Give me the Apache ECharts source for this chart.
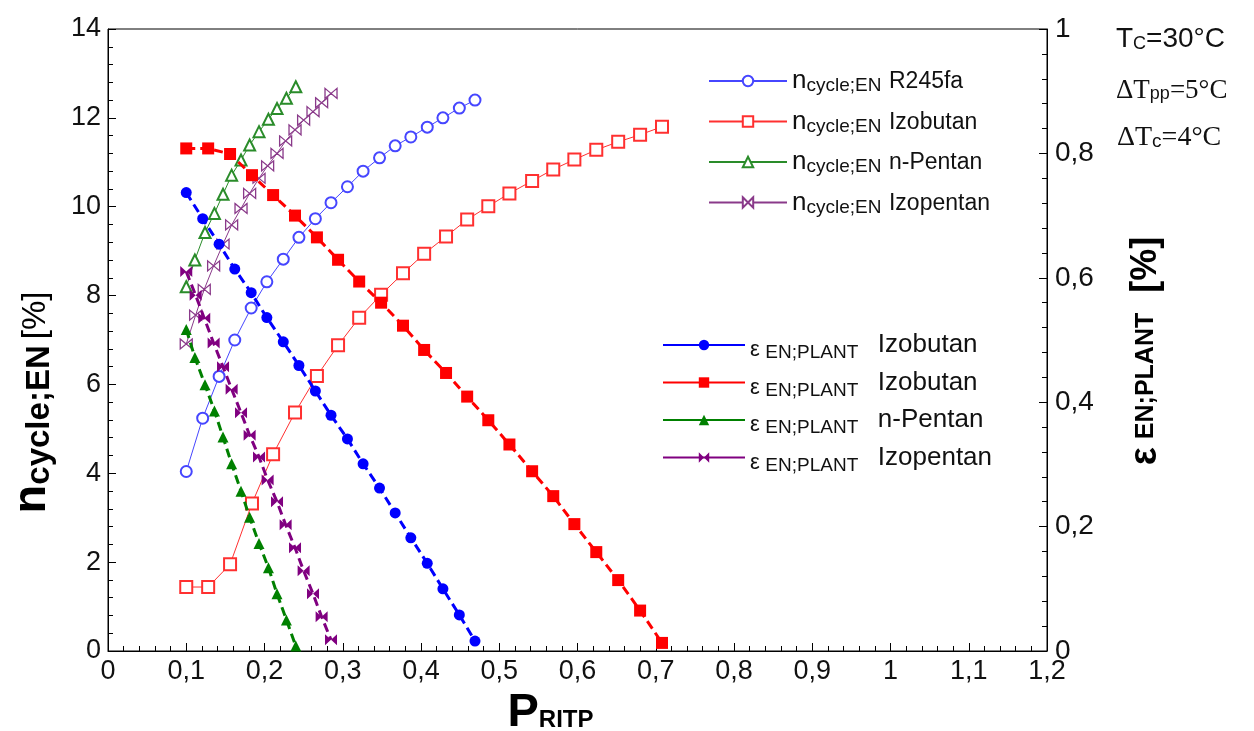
<!DOCTYPE html>
<html>
<head>
<meta charset="utf-8">
<title>n cycle / eps plant vs P RITP</title>
<script src="https://cdn.jsdelivr.net/npm/echarts@6/dist/echarts.min.js"></script>
<style>
  html, body { margin: 0; padding: 0; background: #fff; }
  #chart { width: 1254px; height: 731px; }
</style>
</head>
<body>
<div id="chart"></div>
<script>
// --- data ---
const xR245fa = [0.100, 0.121, 0.142, 0.162, 0.183, 0.203, 0.224, 0.244, 0.265, 0.285, 0.306, 0.326, 0.347, 0.367, 0.387, 0.408, 0.428, 0.449, 0.469];
const nCycleR245fa = [4.04, 5.24, 6.18, 7.00, 7.72, 8.31, 8.82, 9.31, 9.73, 10.09, 10.45, 10.80, 11.10, 11.37, 11.57, 11.79, 12.00, 12.22, 12.40];
const epsR245fa = [0.737, 0.695, 0.654, 0.614, 0.576, 0.536, 0.497, 0.459, 0.418, 0.379, 0.341, 0.301, 0.262, 0.222, 0.182, 0.141, 0.100, 0.058, 0.016];

const xIzobutan = [0.100, 0.128, 0.156, 0.184, 0.211, 0.239, 0.267, 0.294, 0.321, 0.349, 0.377, 0.404, 0.432, 0.459, 0.486, 0.513, 0.542, 0.569, 0.596, 0.624, 0.652, 0.680, 0.708];
const nCycleIzobutan = [1.44, 1.44, 1.95, 3.32, 4.43, 5.37, 6.19, 6.88, 7.50, 8.02, 8.50, 8.94, 9.33, 9.71, 10.01, 10.30, 10.58, 10.84, 11.06, 11.28, 11.46, 11.62, 11.80];
const epsIzobutan = [0.808, 0.808, 0.799, 0.765, 0.733, 0.700, 0.665, 0.629, 0.594, 0.560, 0.523, 0.484, 0.447, 0.409, 0.371, 0.332, 0.289, 0.249, 0.204, 0.159, 0.114, 0.065, 0.013];

const xPentan = [0.100, 0.111, 0.124, 0.136, 0.147, 0.158, 0.170, 0.181, 0.193, 0.205, 0.216, 0.228, 0.240];
const nCyclePentan = [8.20, 8.80, 9.42, 9.85, 10.28, 10.71, 11.05, 11.39, 11.69, 11.97, 12.21, 12.44, 12.70];
const epsPentan = [0.517, 0.472, 0.428, 0.386, 0.344, 0.301, 0.257, 0.215, 0.173, 0.134, 0.092, 0.050, 0.008];

const xIzopentan = [0.100, 0.112, 0.123, 0.135, 0.147, 0.158, 0.170, 0.181, 0.193, 0.204, 0.216, 0.227, 0.239, 0.250, 0.262, 0.273, 0.285];
const nCycleIzopentan = [6.91, 7.56, 8.14, 8.67, 9.16, 9.59, 9.96, 10.30, 10.64, 10.92, 11.20, 11.48, 11.73, 11.95, 12.14, 12.34, 12.55];
const epsIzopentan = [0.610, 0.572, 0.535, 0.495, 0.457, 0.421, 0.383, 0.347, 0.312, 0.275, 0.240, 0.203, 0.166, 0.129, 0.092, 0.055, 0.018];

const xTickLabels = ['0', '0,1', '0,2', '0,3', '0,4', '0,5', '0,6', '0,7', '0,8', '0,9', '1', '1,1', '1,2'];
const leftTickLabels = ['0', '2', '4', '6', '8', '10', '12', '14'];
const rightTickLabels = ['0', '0,2', '0,4', '0,6', '0,8', '1'];

const legendText = {
  nR245fa: '{n|n}{s|cycle;EN} {m|R245fa}',
  nIzobutan: '{n|n}{s|cycle;EN} {m|Izobutan}',
  nPentan: '{n|n}{s|cycle;EN} {m|n-Pentan}',
  nIzopentan: '{n|n}{s|cycle;EN} {m|Izopentan}',
  eR245fa: '{e|ε} {s|EN;PLANT} {m|Izobutan}',
  eIzobutan: '{e|ε} {s|EN;PLANT} {m|Izobutan}',
  ePentan: '{e|ε} {s|EN;PLANT} {m|n-Pentan}',
  eIzopentan: '{e|ε} {s|EN;PLANT} {m|Izopentan}'
};

(function() {
  const chart = echarts.init(document.getElementById('chart'));
  const font = '"Liberation Sans", Arial, sans-serif';
  const serif = '"Liberation Serif", "Times New Roman", serif';
  const bowtie = 'path://M0,0L10,6L0,12ZM20,0L10,6L20,12Z';

  function zip(xs, ys) {
    return xs.map(function(x, i) { return [x, ys[i]]; });
  }

  function thin(name, xs, ys, color, symbol, size, extraItem) {
    return {
      name: name,
      type: 'line',
      yAxisIndex: 0,
      data: zip(xs, ys),
      symbol: symbol,
      symbolSize: size,
      lineStyle: { color: color, width: 1 },
      itemStyle: Object.assign({ color: color, borderWidth: 1.4 }, extraItem || {}),
      z: 3
    };
  }

  function thick(name, xs, ys, color, symbol, size) {
    return {
      name: name,
      type: 'line',
      yAxisIndex: 1,
      data: zip(xs, ys),
      symbol: symbol,
      symbolSize: size,
      lineStyle: { color: color, width: 3, type: [9, 5] },
      itemStyle: { color: color },
      z: 4
    };
  }

  const tickStyle = { color: '#000', width: 1 };

  const option = {
    backgroundColor: '#fff',
    animation: false,
    textStyle: { fontFamily: font },
    grid: {
      left: 108, right: 207, top: 29, bottom: 80,
      outerBoundsMode: 'none',
      containLabel: false,
      show: true, borderColor: '#000', borderWidth: 1
    },
    xAxis: {
      type: 'value',
      min: 0, max: 1.2, interval: 0.1,
      name: '{p|P}{s|RITP}',
      nameLocation: 'middle',
      nameGap: 38,
      nameTextStyle: {
        padding: [0, 54, 0, 0],
        rich: {
          p: { fontSize: 47, fontWeight: 'bold', color: '#000', fontFamily: font },
          s: { fontSize: 24, fontWeight: 'bold', color: '#000', fontFamily: font, padding: [14, 0, 0, 0] }
        }
      },
      axisLine: { lineStyle: { color: '#000', width: 1 } },
      axisTick: { inside: true, length: 8, lineStyle: tickStyle },
      minorTick: { show: true, splitNumber: 5, length: 5, lineStyle: tickStyle },
      splitLine: { show: false },
      axisLabel: {
        fontSize: 27, color: '#111', margin: 7,
        formatter: function(v) { return xTickLabels[Math.round(v / 0.1)]; }
      }
    },
    yAxis: [
      {
        type: 'value',
        position: 'left',
        min: 0, max: 14, interval: 2,
        name: '{n|n}{s|cycle;EN}{b|[%]}',
        nameLocation: 'middle',
        nameRotate: 90,
        nameGap: 52,
        nameTextStyle: {
          padding: [0, 125, 0, 0],
          rich: {
            n: { fontSize: 47, fontWeight: 'bold', color: '#000', fontFamily: font },
            s: { fontSize: 33, fontWeight: 'bold', color: '#000', fontFamily: font, padding: [14, 0, 0, 0] },
            b: { fontSize: 33, color: '#000', fontFamily: font, padding: [6, 0, 0, 6] }
          }
        },
        axisLine: { show: true, lineStyle: { color: '#000', width: 1 } },
        axisTick: { show: true, inside: true, length: 8, lineStyle: tickStyle },
        minorTick: { show: true, splitNumber: 5, length: 5, lineStyle: tickStyle },
        splitLine: { show: false },
        axisLabel: {
          fontSize: 27, color: '#111', margin: 7,
          formatter: function(v) { return leftTickLabels[Math.round(v / 2)]; }
        }
      },
      {
        type: 'value',
        position: 'right',
        min: 0, max: 1, interval: 0.2,
        name: '{e|ε}{s|EN;PLANT}{b|[%]}',
        nameLocation: 'middle',
        nameRotate: 90,
        nameGap: 80,
        nameTextStyle: {
          padding: [0, 22, 0, 0],
          rich: {
            e: { fontSize: 38, fontWeight: 'bold', color: '#000', fontFamily: font, padding: [0, 8, 0, 0] },
            s: { fontSize: 25, fontWeight: 'bold', color: '#000', fontFamily: font },
            b: { fontSize: 36, fontWeight: 'bold', color: '#000', fontFamily: font, padding: [0, 0, 0, 20] }
          }
        },
        axisLine: { show: true, lineStyle: { color: '#000', width: 1 } },
        axisTick: { show: true, inside: true, length: 8, lineStyle: tickStyle },
        minorTick: { show: true, splitNumber: 5, length: 5, lineStyle: tickStyle },
        splitLine: { show: false },
        axisLabel: {
          fontSize: 28, color: '#111', margin: 8,
          formatter: function(v) { return rightTickLabels[Math.round(v / 0.2)]; }
        }
      }
    ],
    legend: [
      {
        data: ['nR245fa', 'nIzobutan', 'nPentan', 'nIzopentan'],
        orient: 'vertical',
        left: 703, top: 63,
        itemWidth: 78, itemHeight: 13, itemGap: 13,
        selectedMode: false,
        formatter: function(name) { return legendText[name]; },
        textStyle: {
          fontSize: 20, color: '#111', fontFamily: font,
          rich: {
            n: { fontSize: 26, color: '#111', fontFamily: font },
            s: { fontSize: 19, color: '#111', fontFamily: font, padding: [10, 0, 0, 0] },
            m: { fontSize: 23, color: '#111', fontFamily: font, padding: [2, 0, 0, 2] }
          }
        }
      },
      {
        data: ['eR245fa', 'eIzobutan', 'ePentan', 'eIzopentan'],
        orient: 'vertical',
        left: 657, top: 327,
        itemWidth: 82, itemHeight: 13, itemGap: 7,
        selectedMode: false,
        lineStyle: { type: 'solid' },
        formatter: function(name) { return legendText[name]; },
        textStyle: {
          fontSize: 20, color: '#111', fontFamily: font,
          rich: {
            e: { fontSize: 22, color: '#111', fontFamily: font, padding: [10, 0, 0, 0] },
            s: { fontSize: 19, color: '#111', fontFamily: font, padding: [16, 0, 0, 0] },
            m: { fontSize: 26, color: '#111', fontFamily: font, padding: [0, 0, 0, 14] }
          }
        }
      }
    ],
    graphic: [
      {
        type: 'text', left: 1116, top: 25,
        style: {
          text: '{a|T}{b|C}{a|=30°C}',
          rich: {
            a: { fontSize: 28, fill: '#111', fontFamily: font },
            b: { fontSize: 18, fill: '#111', fontFamily: font, padding: [10, 0, 0, 0] }
          }
        }
      },
      {
        type: 'text', left: 1116, top: 77,
        style: {
          text: '{a|ΔT}{b|pp}{a|=5°C}',
          rich: {
            a: { fontSize: 27, fill: '#111', fontFamily: serif },
            b: { fontSize: 18, fill: '#111', fontFamily: font, padding: [8, 0, 0, 0] }
          }
        }
      },
      {
        type: 'text', left: 1117, top: 124,
        style: {
          text: '{a|ΔT}{b|c}{a|=4°C}',
          rich: {
            a: { fontSize: 28, fill: '#111', fontFamily: serif },
            b: { fontSize: 19, fill: '#111', fontFamily: font, padding: [8, 0, 0, 0] }
          }
        }
      }
    ],
    series: [
      thin('nR245fa', xR245fa, nCycleR245fa, '#4646ff', 'emptyCircle', 11),
      thin('nIzobutan', xIzobutan, nCycleIzobutan, '#ff3030', 'emptyRect', 12),
      thin('nPentan', xPentan, nCyclePentan, '#2a8c2a', 'emptyTriangle', 11),
      thin('nIzopentan', xIzopentan, nCycleIzopentan, '#8a3a8a', bowtie, [12, 10],
        { color: '#fff', borderColor: '#8a3a8a', borderWidth: 1.2 }),
      thick('eR245fa', xR245fa, epsR245fa, '#0000ff', 'circle', 11),
      thick('eIzobutan', xIzobutan, epsIzobutan, '#ff0000', 'rect', 12),
      thick('ePentan', xPentan, epsPentan, '#008000', 'triangle', 11),
      thick('eIzopentan', xIzopentan, epsIzopentan, '#800080', bowtie, [12, 11])
    ]
  };
  chart.setOption(option);

  window.onresize = function() {
    chart.resize();
  };
}());
</script>
</body>
</html>
